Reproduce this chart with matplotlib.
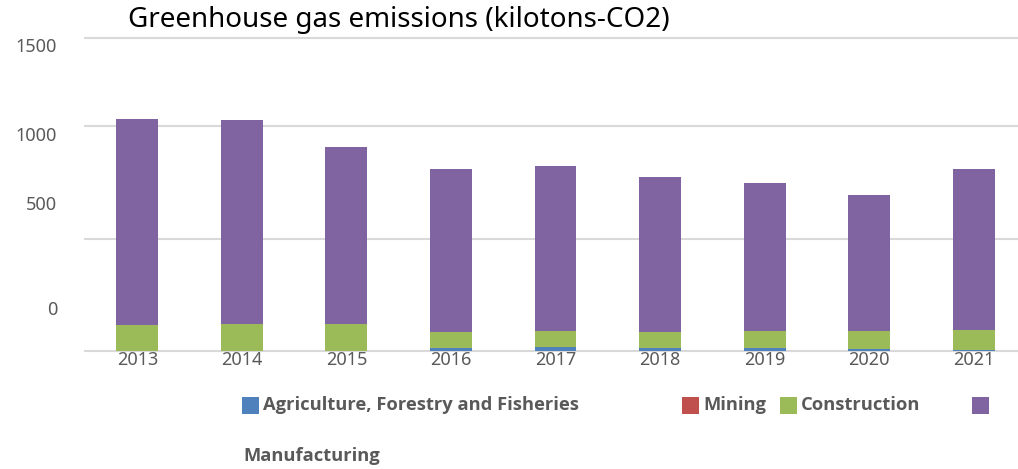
import matplotlib.pyplot as plt
import matplotlib.patches as patches
import numpy as np

# Données (kilotonnes CO2)
years = ["2013", "2014", "2015", "2016", "2017", "2018", "2019", "2020", "2021"]
agriculture = [1, 1, 1, 12, 16, 12, 12, 9, 4]
mining = [0, 0, 0, 1, 3, 1, 1, 1, 1]
construction = [115, 119, 119, 71, 70, 71, 76, 79, 88]
manufacturing = [915, 907, 787, 725, 733, 689, 658, 604, 716]

series_names = ["Agriculture, Forestry and Fisheries", "Mining", "Construction", "Manufacturing"]
colors = ["#4f81bd", "#c0504d", "#9bbb59", "#8064a2"]

W, H = 1018, 469
plt.rcParams["font.family"] = ["Noto Sans", "DejaVu Sans"]
fig = plt.figure(figsize=(W / 100, H / 100), dpi=100)


def fx(x):
    return x / W


def fy(y):
    return 1 - y / H


# axe : 0 à y=351 px, haut à y=38 px (≈1391)
ax = fig.add_axes([fx(85), fy(351), fx(941), (351 - 38) / H])
ymax = (351 - 38) / 0.225
ax.set_xlim(-0.5, 8.5)
ax.set_ylim(0, ymax)
ax.set_axisbelow(True)

x = np.arange(len(years))
bottom = np.zeros(len(years))
for vals, col in zip([agriculture, mining, construction, manufacturing], colors):
    ax.bar(x, vals, width=0.4, bottom=bottom, color=col, zorder=2)
    bottom += np.array(vals)

for yv in [0, 500, 1000, ymax]:
    ax.axhline(yv, color="#d9d9d9", lw=1.5, zorder=1, clip_on=False)

for s in ax.spines.values():
    s.set_visible(False)
ax.set_yticks([])
ax.set_xticks(x)
ax.set_xticklabels(years, fontsize=13, color="#595959")
ax.tick_params(axis="x", length=0, pad=0)

# étiquettes de l'axe y (placées comme dans l'original)
for lab, ypx in [("1500", 47), ("1000", 136), ("500", 205), ("0", 310)]:
    fig.text(fx(57), fy(ypx), lab, ha="right", va="center", fontsize=13, color="#595959")

fig.text(fx(128), fy(20), "Greenhouse gas emissions (kilotons-CO2)", ha="left", va="center",
         fontsize=20, color="black")

# légende manuelle
leg_font = dict(family=["Open Sans", "DejaVu Sans"], fontsize=13.2, fontweight="bold", color="#595959")
legend_items = [(242, 405, 0), (682, 405, 1), (780, 405, 2), (972, 405, 3)]
for xpx, ypx, i in legend_items:
    fig.add_artist(patches.Rectangle((fx(xpx), fy(ypx + 9)), 17 / W, 17 / H,
                                     transform=fig.transFigure, facecolor=colors[i], edgecolor="none"))
    if i < 3:
        fig.text(fx(xpx + 21), fy(ypx), series_names[i], ha="left", va="center", **leg_font)
fig.text(fx(243), fy(456), series_names[3], ha="left", va="center", **leg_font)

fig.savefig("out.png", dpi=100)
